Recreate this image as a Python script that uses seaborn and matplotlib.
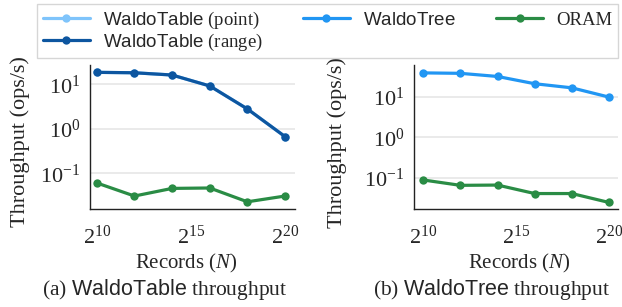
import numpy as np
import pandas as pd
import matplotlib
matplotlib.use("Agg")
import matplotlib.pyplot as plt
import seaborn as sns
from matplotlib.lines import Line2D

records = [2**10, 2**12, 2**14, 2**16, 2**18, 2**20]

# WaldoTable panel
table_point = [18.6, 18.2, 16.2, 9.2, 2.8, 0.67]
table_range = [18.6, 18.2, 16.2, 9.2, 2.8, 0.67]
table_oram = [0.061, 0.031, 0.046, 0.047, 0.023, 0.031]

# WaldoTree panel
tree_vals = [40.0, 39.0, 32.6, 21.5, 17.0, 10.0]
tree_oram = [0.087, 0.064, 0.065, 0.040, 0.040, 0.024]

c_point = "#7fc4fb"
c_range = "#0d56a0"
c_tree = "#2196f3"
c_oram = "#2a8c45"

sns.set_theme(style="whitegrid")
plt.rcParams["font.family"] = ["Liberation Serif", "DejaVu Serif"]
plt.rcParams["mathtext.fontset"] = "custom"
plt.rcParams["mathtext.rm"] = "Liberation Serif"
plt.rcParams["mathtext.it"] = "Liberation Serif:italic"
plt.rcParams["mathtext.sf"] = "Liberation Sans"

fig = plt.figure(figsize=(6.22, 3.07), dpi=100)
ax1 = fig.add_axes([0.1447, 0.3192, 0.3296, 0.469])
ax2 = fig.add_axes([0.666, 0.3182, 0.3275, 0.469])

kw = dict(marker="o", markersize=6.0, markeredgewidth=0, linewidth=2.3)

sns.lineplot(x=records, y=table_point, ax=ax1, color=c_point, **kw)
sns.lineplot(x=records, y=table_range, ax=ax1, color=c_range, **kw)
sns.lineplot(x=records, y=table_oram, ax=ax1, color=c_oram, **kw)

sns.lineplot(x=records, y=tree_vals, ax=ax2, color=c_tree, **kw)
sns.lineplot(x=records, y=tree_oram, ax=ax2, color=c_oram, **kw)

setup = [
    (ax1, (10**-1.80, 10**1.434), (2**9.64, 2**20.53), -0.341, 0.468),
    (ax2, (10**-1.79, 10**1.79), (2**9.52, 2**20.48), -0.38, 0.515),
]
for ax, ylim, xlim, ylab_x, xlab_x in setup:
    ax.set_xscale("log", base=2)
    ax.set_yscale("log")
    ax.set_xlim(*xlim)
    ax.set_ylim(*ylim)
    ax.set_xticks([2**10, 2**15, 2**20])
    ax.set_yticks([0.1, 1, 10])
    ax.minorticks_off()
    ax.grid(axis="x", visible=False)
    ax.grid(axis="y", color="#e6e6e6", linewidth=1.2)
    ax.set_facecolor("white")
    for s in ["top", "right"]:
        ax.spines[s].set_visible(False)
    for s in ["left", "bottom"]:
        ax.spines[s].set_color("#222222")
        ax.spines[s].set_linewidth(1.0)
    ax.tick_params(axis="both", labelsize=16, length=0)
    ax.tick_params(axis="x", pad=12)
    ax.tick_params(axis="y", pad=7)
    ax.set_xlabel("Records ($N$)", fontsize=15, va="center")
    ax.set_ylabel("Throughput (ops/s)", fontsize=16, va="center")
    ax.xaxis.set_label_coords(xlab_x, -0.375)
    ax.yaxis.set_label_coords(ylab_x, 0.465)

fig.text(0.2645, 0.056, r"(a) $\mathsf{WaldoTable}$ throughput", ha="center", va="center", fontsize=15.5)
fig.text(0.791, 0.056, r"(b) $\mathsf{WaldoTree}$ throughput", ha="center", va="center", fontsize=15.5)

handles = [
    Line2D([], [], color=c_point, **kw),
    Line2D([], [], color=c_range, **kw),
    Line2D([], [], color=c_tree, **kw),
    Line2D([], [], color=c_oram, **kw),
]
labels = [r"$\mathsf{WaldoTable}$ (point)", r"$\mathsf{WaldoTable}$ (range)",
          r"$\mathsf{WaldoTree}$", "ORAM"]
leg = fig.legend(handles, labels, ncol=3, loc="upper left",
                 bbox_to_anchor=(0.0595, 0.987, 0.934, 0.0), mode="expand",
                 borderaxespad=0, fontsize=13.5, frameon=True, fancybox=False,
                 handlelength=2.5, handletextpad=0.7, labelspacing=0.05,
                 borderpad=0.3, columnspacing=1.0)
leg.get_frame().set_edgecolor("#cccccc")
leg.get_frame().set_linewidth(1.0)

fig.savefig("out.png", dpi=100)
